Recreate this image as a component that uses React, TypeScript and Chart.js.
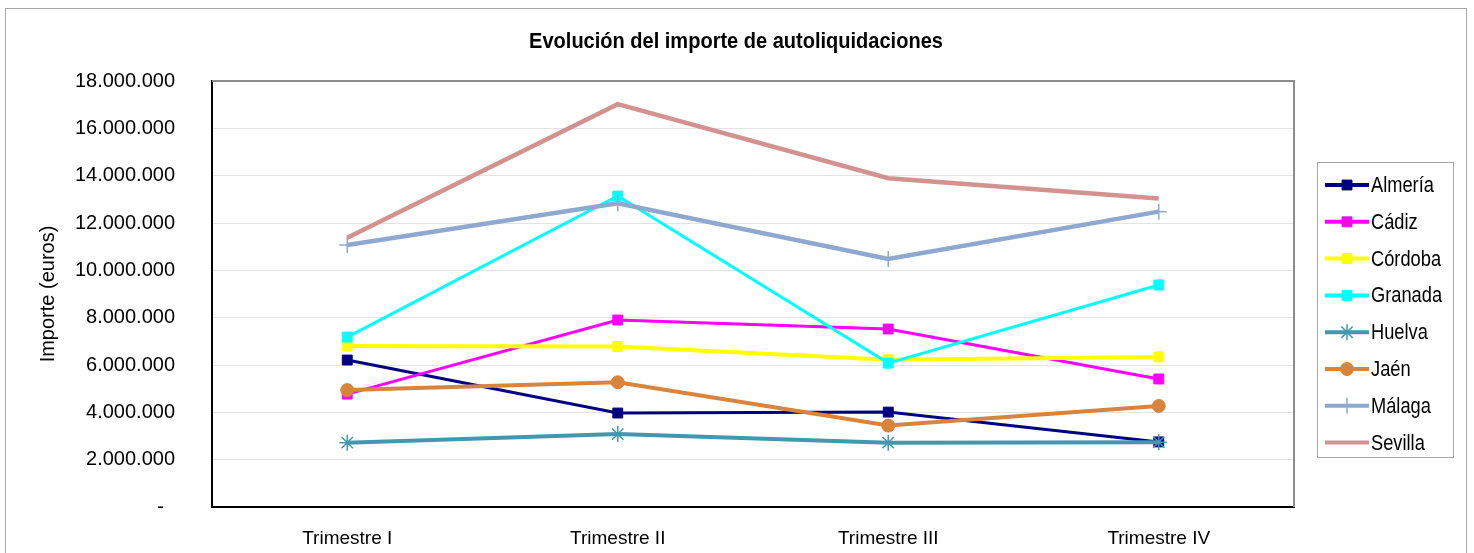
import React, { useEffect, useRef } from 'react';
import { Chart, registerables } from 'chart.js';
import { drawPoint } from 'chart.js/helpers';

Chart.register(...registerables);

// ---------- data ----------
const categories = ['Trimestre I', 'Trimestre II', 'Trimestre III', 'Trimestre IV'];
const almeria = [6210000, 3970000, 4010000, 2750000];
const cadiz = [4770000, 7900000, 7520000, 5410000];
const cordoba = [6800000, 6780000, 6220000, 6340000];
const granada = [7180000, 13140000, 6080000, 9380000];
const huelva = [2720000, 3080000, 2720000, 2740000];
const jaen = [4940000, 5270000, 3440000, 4270000];
const malaga = [11070000, 12830000, 10480000, 12480000];
const sevilla = [11380000, 17020000, 13890000, 13040000];

const seriesNames = ['Almería', 'Cádiz', 'Córdoba', 'Granada', 'Huelva', 'Jaén', 'Málaga', 'Sevilla'];
const seriesData = [almeria, cadiz, cordoba, granada, huelva, jaen, malaga, sevilla];

const yMin = 0;
const yMax = 18000000;
const yStep = 2000000;

const chartTitle = 'Evolución del importe de autoliquidaciones';
const yAxisTitle = 'Importe (euros)';

// ---------- styles ----------
const REGULAR = '"Liberation Sans", Arial, sans-serif';

const seriesStyles = [
  { color: '#000080', width: 3, pointStyle: 'rect', radius: 7, pbw: 1 },
  { color: '#FF00FF', width: 3, pointStyle: 'rect', radius: 7, pbw: 1 },
  { color: '#FFFF00', width: 4, pointStyle: 'rect', radius: 7, pbw: 1 },
  { color: '#00FFFF', width: 3, pointStyle: 'rect', radius: 7, pbw: 1 },
  { color: '#4198AF', width: 4, pointStyle: 'star', radius: 8, pbw: 1.5 },
  { color: '#D9843C', width: 4, pointStyle: 'circle', radius: 6.5, pbw: 1 },
  { color: '#8FA8CF', width: 4.5, pointStyle: 'cross', radius: 8, pbw: 1.5 },
  { color: '#D19290', width: 4.5, pointStyle: 'circle', radius: 0, pbw: 0 },
];

function formatThousands(v: number): string {
  const s = Math.round(v).toString();
  let out = '';
  for (let i = 0; i < s.length; i++) {
    const fromEnd = s.length - i;
    out += s[i];
    if (fromEnd > 1 && (fromEnd - 1) % 3 === 0) out += '.';
  }
  return out;
}

function narrowText(ctx: CanvasRenderingContext2D, text: string, x: number, y: number, sx: number) {
  ctx.save();
  ctx.translate(x, y);
  ctx.scale(sx, 1);
  ctx.fillText(text, 0, 0);
  ctx.restore();
}

const decorPlugin = {
  id: 'decor',
  beforeDraw(chart: any) {
    const ctx = chart.ctx;
    ctx.save();
    ctx.fillStyle = '#ffffff';
    ctx.fillRect(0, 0, chart.width, chart.height);
    ctx.strokeStyle = '#A6A6A6';
    ctx.lineWidth = 1;
    ctx.strokeRect(5.5, 8.5, 1461, 600);
    ctx.fillStyle = '#000000';
    ctx.font = 'bold 22px ' + REGULAR;
    ctx.textAlign = 'center';
    ctx.textBaseline = 'middle';
    narrowText(ctx, chartTitle, 736, 42, 0.91);
    ctx.restore();
  },
  beforeDatasetsDraw(chart: any) {
    const ctx = chart.ctx;
    const { left, top, right, bottom } = chart.chartArea;
    ctx.save();
    ctx.strokeStyle = '#8C8C8C';
    ctx.lineWidth = 2;
    ctx.beginPath();
    ctx.moveTo(left, top);
    ctx.lineTo(right, top);
    ctx.lineTo(right, bottom);
    ctx.stroke();
    ctx.restore();
  },
  afterDraw(chart: any) {
    const ctx = chart.ctx;
    ctx.save();
    ctx.strokeStyle = '#A6A6A6';
    ctx.lineWidth = 1;
    ctx.strokeRect(1317.5, 162.5, 136, 295);
    ctx.font = '22px ' + REGULAR;
    ctx.textAlign = 'left';
    ctx.textBaseline = 'middle';
    seriesNames.forEach((name, i) => {
      const st = seriesStyles[i];
      const y = 185 + i * 36.8;
      ctx.strokeStyle = st.color;
      ctx.lineWidth = 4;
      ctx.lineCap = 'butt';
      ctx.beginPath();
      ctx.moveTo(1325, y);
      ctx.lineTo(1369, y);
      ctx.stroke();
      if (st.radius > 0) {
        ctx.fillStyle = st.color;
        ctx.strokeStyle = st.color;
        ctx.lineWidth = st.pbw;
        drawPoint(ctx, { pointStyle: st.pointStyle, radius: st.radius, rotation: 0, borderWidth: st.pbw } as any, 1347, y);
      }
      ctx.fillStyle = '#000000';
      narrowText(ctx, name, 1371, y + 1, 0.83);
    });
    ctx.restore();
  },
};

export default function App() {
  const canvasRef = useRef<HTMLCanvasElement | null>(null);

  useEffect(() => {
    if (!canvasRef.current) return;
    const datasets = seriesNames.map((name, i) => {
      const st = seriesStyles[i];
      return {
        label: name,
        data: seriesData[i],
        borderColor: st.color,
        backgroundColor: st.color,
        borderWidth: st.width,
        pointStyle: st.pointStyle,
        pointRadius: st.radius,
        pointHoverRadius: st.radius,
        pointHitRadius: 0,
        pointBackgroundColor: st.color,
        pointBorderColor: st.color,
        pointBorderWidth: st.pbw,
        tension: 0,
        fill: false,
        order: -i,
      };
    });

    const chart = new Chart(canvasRef.current, {
      type: 'line',
      data: { labels: categories, datasets: datasets as any },
      options: {
        responsive: false,
        animation: false,
        layout: { padding: { left: 0, top: 81, right: 180, bottom: 0 } },
        plugins: {
          legend: { display: false },
          title: { display: false },
          tooltip: { enabled: false },
        },
        scales: {
          x: {
            offset: true,
            grid: { display: false, drawTicks: false },
            border: { display: true, color: '#000000', width: 2 },
            ticks: {
              color: '#000000',
              padding: 20,
              font: { family: REGULAR, size: 19 },
            },
            afterFit: (scale: any) => {
              scale.height = 46;
            },
          },
          y: {
            min: yMin,
            max: yMax,
            grid: {
              color: '#E3E3E3',
              lineWidth: 1,
              drawTicks: true,
              tickLength: 37,
              tickColor: 'rgba(0,0,0,0)',
            },
            border: { display: true, color: '#000000', width: 2 },
            ticks: {
              stepSize: yStep,
              color: '#000000',
              padding: 0,
              font: { family: REGULAR, size: 20 },
              callback: (v: any) => (Number(v) === 0 ? '-  ' : formatThousands(Number(v))),
            },
            title: {
              display: true,
              text: yAxisTitle,
              color: '#000000',
              font: { family: REGULAR, size: 20 },
              padding: { top: 36, bottom: 0 },
            },
            afterFit: (scale: any) => {
              scale.width = 212;
            },
          },
        },
      },
      plugins: [decorPlugin],
    });
    return () => chart.destroy();
  }, []);

  return (
    <div style={{ position: 'absolute', left: 0, top: 0, width: 1474, height: 553, background: '#fff' }}>
      <canvas ref={canvasRef} width={1474} height={553} style={{ display: 'block', width: 1474, height: 553 }} />
    </div>
  );
}
